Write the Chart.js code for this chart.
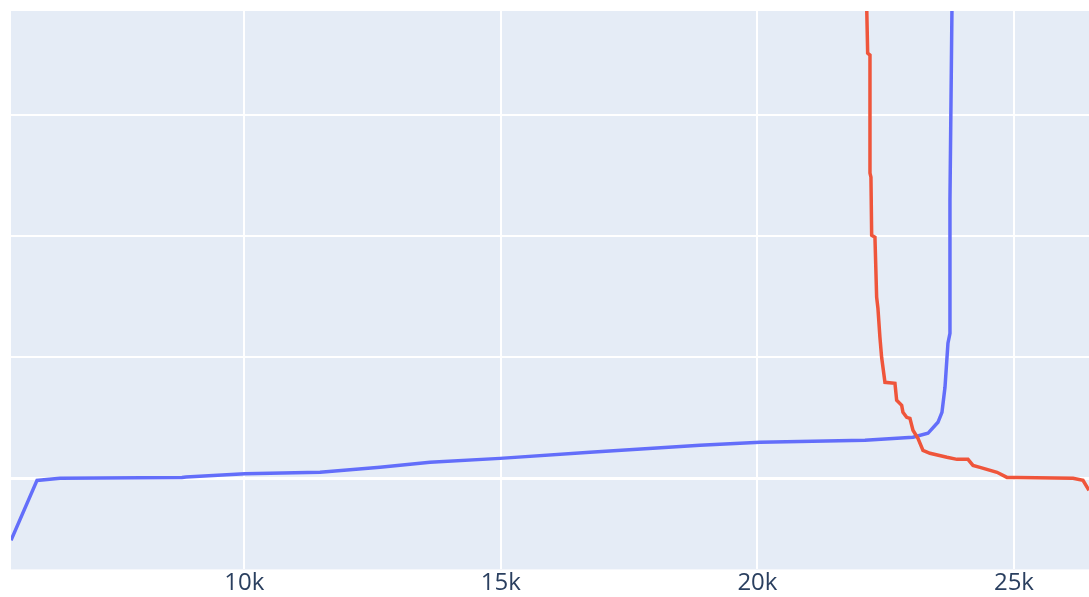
<!DOCTYPE html>
<html>
<head>
<meta charset="utf-8">
<script src="https://cdn.jsdelivr.net/npm/chart.js@4/dist/chart.umd.min.js"></script>
<style>
  html, body { margin: 0; padding: 0; background: #ffffff; }
  #wrap { width: 1089px; height: 597px; position: relative; }
</style>
</head>
<body>
<div id="wrap"><canvas id="mainChart"></canvas></div>
<script>
// 파란 선 (blue trace)
const blueX = [5452, 5959, 6407, 8785, 8863, 10013, 11475, 12645, 13619, 14983, 16737, 18881, 20051, 22097, 23032, 23324, 23519, 23597, 23656, 23714, 23753, 23753, 23800];
const blueY = [-0.512, -0.017, 0, 0.008, 0.012, 0.037, 0.050, 0.091, 0.132, 0.165, 0.215, 0.273, 0.298, 0.314, 0.339, 0.372, 0.463, 0.545, 0.752, 1.116, 1.198, 2.298, 4.2];

// 빨간 선 (red trace)
const redX = [22125, 22149, 22194, 22194, 22213, 22227, 22291, 22324, 22349, 22388, 22421, 22486, 22681, 22714, 22812, 22837, 22909, 22973, 23032, 23129, 23227, 23363, 23694, 23890, 24104, 24202, 24338, 24670, 24864, 25059, 26151, 26346, 26463, 26520];
const redY = [4.0, 3.512, 3.496, 2.521, 2.488, 2.008, 1.992, 1.496, 1.405, 1.165, 1.0, 0.793, 0.785, 0.645, 0.603, 0.545, 0.504, 0.496, 0.397, 0.331, 0.231, 0.207, 0.174, 0.157, 0.157, 0.107, 0.091, 0.050, 0.008, 0.008, 0, -0.017, -0.099, -0.25];

// 축 눈금
const xTicks = [10000, 15000, 20000, 25000];
const yTicks = [0, 1, 2, 3];

let mainChart = null;

// 플롯 영역 배경
const plotBg = {
  id: 'plotBg',
  beforeDraw(chart) {
    const { ctx, chartArea } = chart;
    ctx.save();
    ctx.fillStyle = '#E5ECF6';
    ctx.fillRect(chartArea.left, chartArea.top, chartArea.right - chartArea.left, chartArea.bottom - chartArea.top);
    ctx.restore();
  }
};

function toPoints(xs, ys) {
  return xs.map((x, i) => ({ x: x, y: ys[i] }));
}

function renderChart() {
  const ctx = document.getElementById('mainChart').getContext('2d');
  if (mainChart) {
    mainChart.destroy();
  }

  const chartData = {
    datasets: [
      {
        label: 'blue',
        data: toPoints(blueX, blueY),
        borderColor: '#636EFA',
        borderWidth: 3.5,
        pointRadius: 0,
        tension: 0,
        order: 1
      },
      {
        label: 'red',
        data: toPoints(redX, redY),
        borderColor: '#EF553B',
        borderWidth: 3.5,
        pointRadius: 0,
        tension: 0,
        order: 0
      }
    ]
  };

  const options = {
    responsive: true,
    maintainAspectRatio: false,
    animation: false,
    layout: { padding: { left: 11, top: 11, right: 0, bottom: 0 } },
    plugins: {
      legend: { display: false },
      tooltip: { enabled: false }
    },
    scales: {
      x: {
        type: 'linear',
        min: 5452,
        max: 26463,
        afterBuildTicks: (axis) => { axis.ticks = xTicks.map(v => ({ value: v })); },
        border: { display: false },
        grid: { color: '#ffffff', lineWidth: 2, drawTicks: false },
        ticks: {
          padding: 3,
          color: '#2a3f5f',
          font: { family: '"Open Sans", sans-serif', size: 24, lineHeight: 0.9 },
          maxRotation: 0,
          callback: (v) => (v / 1000) + 'k'
        }
      },
      y: {
        type: 'linear',
        min: -0.752,
        max: 3.86,
        afterBuildTicks: (axis) => { axis.ticks = yTicks.map(v => ({ value: v })); },
        border: { display: false },
        grid: {
          color: '#ffffff',
          lineWidth: (c) => (c.tick && c.tick.value === 0 ? 3 : 2),
          drawTicks: false
        },
        ticks: { display: false }
      }
    }
  };

  mainChart = new Chart(ctx, {
    type: 'line',
    data: chartData,
    options: options,
    plugins: [plotBg]
  });
}

document.addEventListener('DOMContentLoaded', renderChart);
</script>
</body>
</html>
